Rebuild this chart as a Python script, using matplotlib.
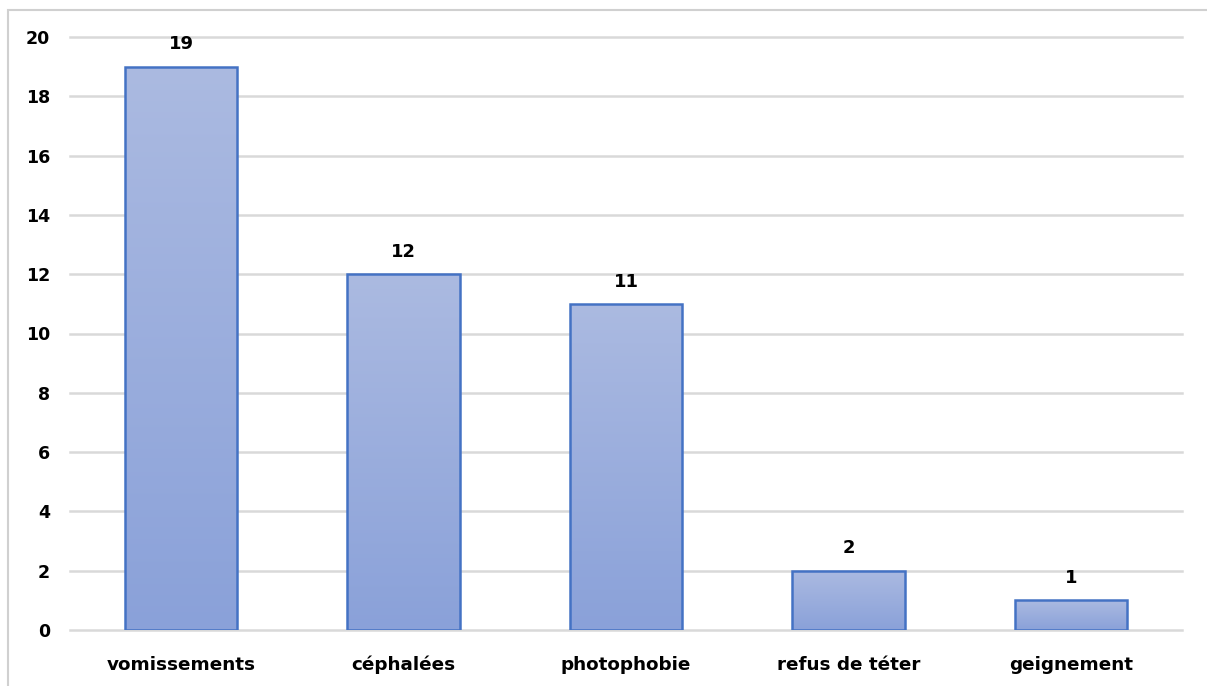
import matplotlib
import matplotlib.pyplot as plt
import numpy as np
from matplotlib.colors import LinearSegmentedColormap
from matplotlib.patches import Rectangle

matplotlib.use('Agg')

categories = ["vomissements", "céphalées", "photophobie", "refus de téter", "geignement"]
counts = [19, 12, 11, 2, 1]
yticks = [0, 2, 4, 6, 8, 10, 12, 14, 16, 18, 20]

plt.rcParams['font.family'] = ['DejaVu Sans']
plt.rcParams['font.weight'] = 'bold'

W, H = 1207, 686
fig = plt.figure(figsize=(W / 100, H / 100), dpi=100)
ax = fig.add_axes([70 / W, 1 - 630 / H, (1182 - 70) / W, (630 - 37) / H])

# dégradé vertical dans chaque barre (clair en haut, plus foncé en bas)
degrade = LinearSegmentedColormap.from_list("barre", ["#8aa1d9", "#abbae1"])
x = np.arange(len(categories))
bars = ax.bar(x, counts, width=0.505, color="none", edgecolor="#4472c4",
              linewidth=1.8, zorder=3)
for b in bars:
    x0, y0 = b.get_x(), b.get_y()
    im = ax.imshow(np.linspace(0, 1, 256).reshape(-1, 1), cmap=degrade,
                   origin="lower", aspect="auto", zorder=2,
                   extent=[x0, x0 + b.get_width(), y0, y0 + b.get_height()])
    im.set_clip_path(b)

for xi, v in zip(x, counts):
    ax.text(xi, v + 0.45, str(v), ha="center", va="bottom",
            fontsize=13, fontweight="bold", color="black")

ax.set_xlim(-0.5, len(categories) - 0.5)
ax.set_ylim(0, 20)
ax.set_yticks(yticks)
ax.set_xticks(x)
ax.set_xticklabels(categories, fontsize=13.2, fontweight="bold")
ax.tick_params(axis="y", labelsize=12.5, length=0, pad=14.5)
ax.tick_params(axis="x", length=0, pad=18.5)
ax.yaxis.grid(True, color="#d9d9d9", linewidth=1.8, zorder=0, clip_on=False)
ax.set_axisbelow(True)
for s in ax.spines.values():
    s.set_visible(False)

# cadre gris autour du graphique
fig.patches.append(Rectangle((8 / W, -0.05), 1.1, 1 - 10 / H + 0.05,
                             transform=fig.transFigure, fill=False,
                             edgecolor="#d0d0d0", linewidth=1.5))

fig.savefig("out.png", dpi=100)
